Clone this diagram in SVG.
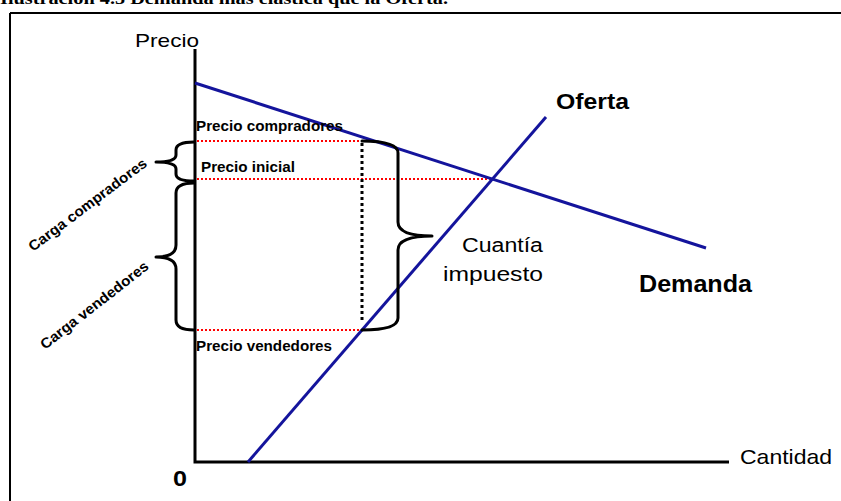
<svg xmlns="http://www.w3.org/2000/svg" width="841" height="501" viewBox="0 0 841 501">
<style>
.sans{font-family:"Liberation Sans",Arial,sans-serif;fill:#000}
.b{font-weight:bold}
.axis{stroke:#000;stroke-width:3;fill:none}
.curve{stroke:#14149c;stroke-width:3;fill:none}
.red{stroke:#ff0000;stroke-width:2;stroke-dasharray:2 2;fill:none}
.blk{stroke:#000;stroke-width:3;stroke-dasharray:3 3;fill:none}
.brace{stroke:#000;stroke-width:3;fill:none;stroke-linejoin:round;stroke-linecap:round}
</style>
<rect width="841" height="501" fill="#fff"/>
<text x="0" y="4" font-family="Liberation Serif,'Times New Roman',serif" font-weight="bold" font-size="17" textLength="448" lengthAdjust="spacingAndGlyphs">Ilustración 4.5 Demanda más elástica que la Oferta.</text>
<g id="frame">
<line x1="10" y1="13" x2="841" y2="13" stroke="#000" stroke-width="2"/>
<line x1="10" y1="13" x2="10" y2="501" stroke="#000" stroke-width="2"/>
</g>
<g id="axes">
<polyline class="axis" points="195,49 195,462 729,462"/>
<text class="sans" x="135" y="47" font-size="19" textLength="64" lengthAdjust="spacingAndGlyphs">Precio</text>
<text class="sans" x="740" y="464" font-size="21" textLength="92" lengthAdjust="spacingAndGlyphs">Cantidad</text>
<text class="sans b" x="173" y="486" font-size="22" textLength="14" lengthAdjust="spacingAndGlyphs">0</text>
</g>
<g id="connectors">
<line class="red" x1="197" y1="141" x2="362" y2="141"/>
<line class="red" x1="197" y1="179" x2="492" y2="179"/>
<line class="red" x1="197" y1="330" x2="362" y2="330"/>
<line class="blk" x1="362" y1="143" x2="362" y2="320"/>
</g>
<g id="demanda">
<line class="curve" x1="195" y1="83" x2="706" y2="248"/>
<text class="sans b" x="639" y="292" font-size="24" textLength="113" lengthAdjust="spacingAndGlyphs">Demanda</text>
</g>
<g id="oferta">
<line class="curve" x1="248" y1="462" x2="546" y2="117"/>
<text class="sans b" x="556" y="109" font-size="22" textLength="73" lengthAdjust="spacingAndGlyphs">Oferta</text>
</g>
<g id="precios">
<text class="sans b" x="196" y="131" font-size="15" textLength="147" lengthAdjust="spacingAndGlyphs">Precio compradores</text>
<text class="sans b" x="201" y="172" font-size="15" textLength="94" lengthAdjust="spacingAndGlyphs">Precio inicial</text>
<text class="sans b" x="196" y="351" font-size="15" textLength="136" lengthAdjust="spacingAndGlyphs">Precio vendedores</text>
</g>
<g id="cuantia">
<path class="brace" d="M362,141 Q398,141 398,153 L398,222 Q398,236 432,236 Q398,236 398,250 L398,318 Q398,330 362,330"/>
<text class="sans" x="462" y="252" font-size="20" textLength="81" lengthAdjust="spacingAndGlyphs">Cuantía</text>
<text class="sans" x="443" y="281" font-size="20" textLength="100" lengthAdjust="spacingAndGlyphs">impuesto</text>
</g>
<g id="carga-compradores">
<path class="brace" d="M194,142 Q176,142 176,150 L176,155 Q176,162 156,162 Q176,162 176,169 L176,174 Q176,181 194,181"/>
<text class="sans b" transform="translate(33,252) rotate(-37)" font-size="14.5" textLength="144" lengthAdjust="spacingAndGlyphs">Carga compradores</text>
</g>
<g id="carga-vendedores">
<path class="brace" d="M194,183 Q176,183 176,193 L176,245 Q176,257 156,257 Q176,257 176,269 L176,320 Q176,330 194,330"/>
<text class="sans b" transform="translate(45,350) rotate(-38)" font-size="14.5" textLength="133" lengthAdjust="spacingAndGlyphs">Carga vendedores</text>
</g>
</svg>
